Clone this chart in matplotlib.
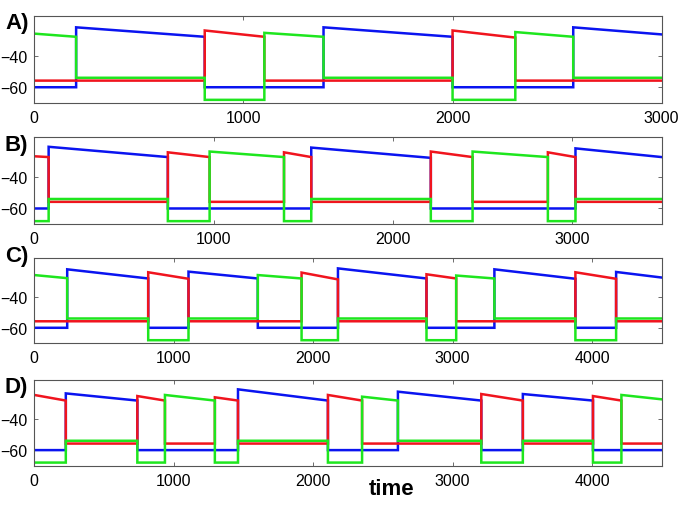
import numpy as np
import matplotlib.pyplot as plt

plt.rcParams['font.family'] = ['Liberation Sans', 'DejaVu Sans']

# switch times, which unit is up, its value just after the switch and just before the next one
a_switch = [0, 200, 815, 1100, 1383, 2000, 2300, 2577, 3000]
a_winner = ['g', 'b', 'r', 'g', 'b', 'r', 'g', 'b']
a_peak = [-26, -22, -24, -25.5, -22, -24, -25, -22]
a_end = [-28, -28, -28, -28, -28, -28.5, -28, -26.5]

b_switch = [0, 80, 745, 978, 1393, 1545, 2212, 2445, 2865, 3019, 3500]
b_winner = ['r', 'b', 'r', 'g', 'r', 'b', 'r', 'g', 'r', 'b']
b_peak = [-27, -21, -24.5, -24, -24.5, -21.5, -24, -24, -24.5, -22]
b_end = [-27.5, -27.5, -27.5, -27.5, -27.5, -28, -27.5, -27.5, -27.5, -27.5]

c_switch = [0, 236, 817, 1106, 1603, 1917, 2178, 2813, 3026, 3300, 3881, 4173, 4500]
c_winner = ['g', 'b', 'r', 'b', 'g', 'r', 'b', 'r', 'g', 'b', 'r', 'b']
c_peak = [-26, -22.3, -24.2, -23.8, -26, -24.4, -21.7, -25.5, -26.3, -22.3, -24.2, -24]
c_end = [-28, -28.2, -28.4, -28.2, -28.2, -28.8, -28.2, -28.2, -28.2, -28.4, -28.4, -27.6]

d_switch = [0, 226, 739, 937, 1295, 1461, 2106, 2351, 2608, 3206, 3504, 4007, 4211, 4500]
d_winner = ['r', 'b', 'r', 'g', 'r', 'b', 'r', 'g', 'b', 'r', 'b', 'r', 'g']
d_peak = [-24.6, -23.6, -25.3, -24.6, -26.1, -21, -24.6, -25.7, -22.5, -24, -24, -25.3, -24.6]
d_end = [-28.2, -28.2, -28.2, -28.2, -28.2, -28.2, -28.2, -28.2, -28.2, -28.2, -28.2, -28.2, -27.4]

# resting level of each unit, given which unit is up
rest = {
    'b': {'r': -55.8, 'g': -54},
    'r': {'b': -60, 'g': -68},
    'g': {'b': -60, 'r': -55.8},
}

colors = {'b': '#0a14f0', 'r': '#f0141e', 'g': '#1ee61e'}
xmax = [3000, 3500, 4500, 4500]
xticks = [[0, 1000, 2000, 3000], [0, 1000, 2000, 3000],
          [0, 1000, 2000, 3000, 4000], [0, 1000, 2000, 3000, 4000]]
labels = ['A)', 'B)', 'C)', 'D)']

panels = [(a_switch, a_winner, a_peak, a_end),
          (b_switch, b_winner, b_peak, b_end),
          (c_switch, c_winner, c_peak, c_end),
          (d_switch, d_winner, d_peak, d_end)]

W, H = 685, 506
tops = [17.3, 138.3, 259, 381]
bots = [104, 225.3, 344.3, 466.7]
label_y = [24, 145, 257, 387]

fig = plt.figure(figsize=(W / 100, H / 100), dpi=100)

for k, (sw, win, pk, en) in enumerate(panels):
    ax = fig.add_axes([34.3 / W, 1 - bots[k] / H, (661.7 - 34.3) / W, (bots[k] - tops[k]) / H])
    for c in ['b', 'r', 'g']:
        t, v = [], []
        for i, w in enumerate(win):
            t += [sw[i], sw[i + 1]]
            if w == c:
                v += [pk[i], en[i]]
            else:
                v += [rest[w][c], rest[w][c]]
        ax.plot(t, v, color=colors[c], lw=1.8, solid_joinstyle='miter')
    ax.set_xlim(0, xmax[k])
    ax.set_ylim(-70, -15)
    ax.set_xticks(xticks[k])
    ax.set_yticks([-60, -40])
    ax.tick_params(direction='in', top=True, right=True, labelsize=11.5,
                   length=3, width=0.6, color='#555555', pad=5)
    for s in ax.spines.values():
        s.set_color('#555555')
        s.set_linewidth(0.8)
    fig.text(5 / W, 1 - label_y[k] / H, labels[k], fontsize=16,
             fontweight='bold', va='center', ha='left')

fig.text(392 / W, 1 - 490 / H, 'time', fontsize=16, fontweight='bold',
         ha='center', va='center')

fig.savefig('out.png', dpi=100)
